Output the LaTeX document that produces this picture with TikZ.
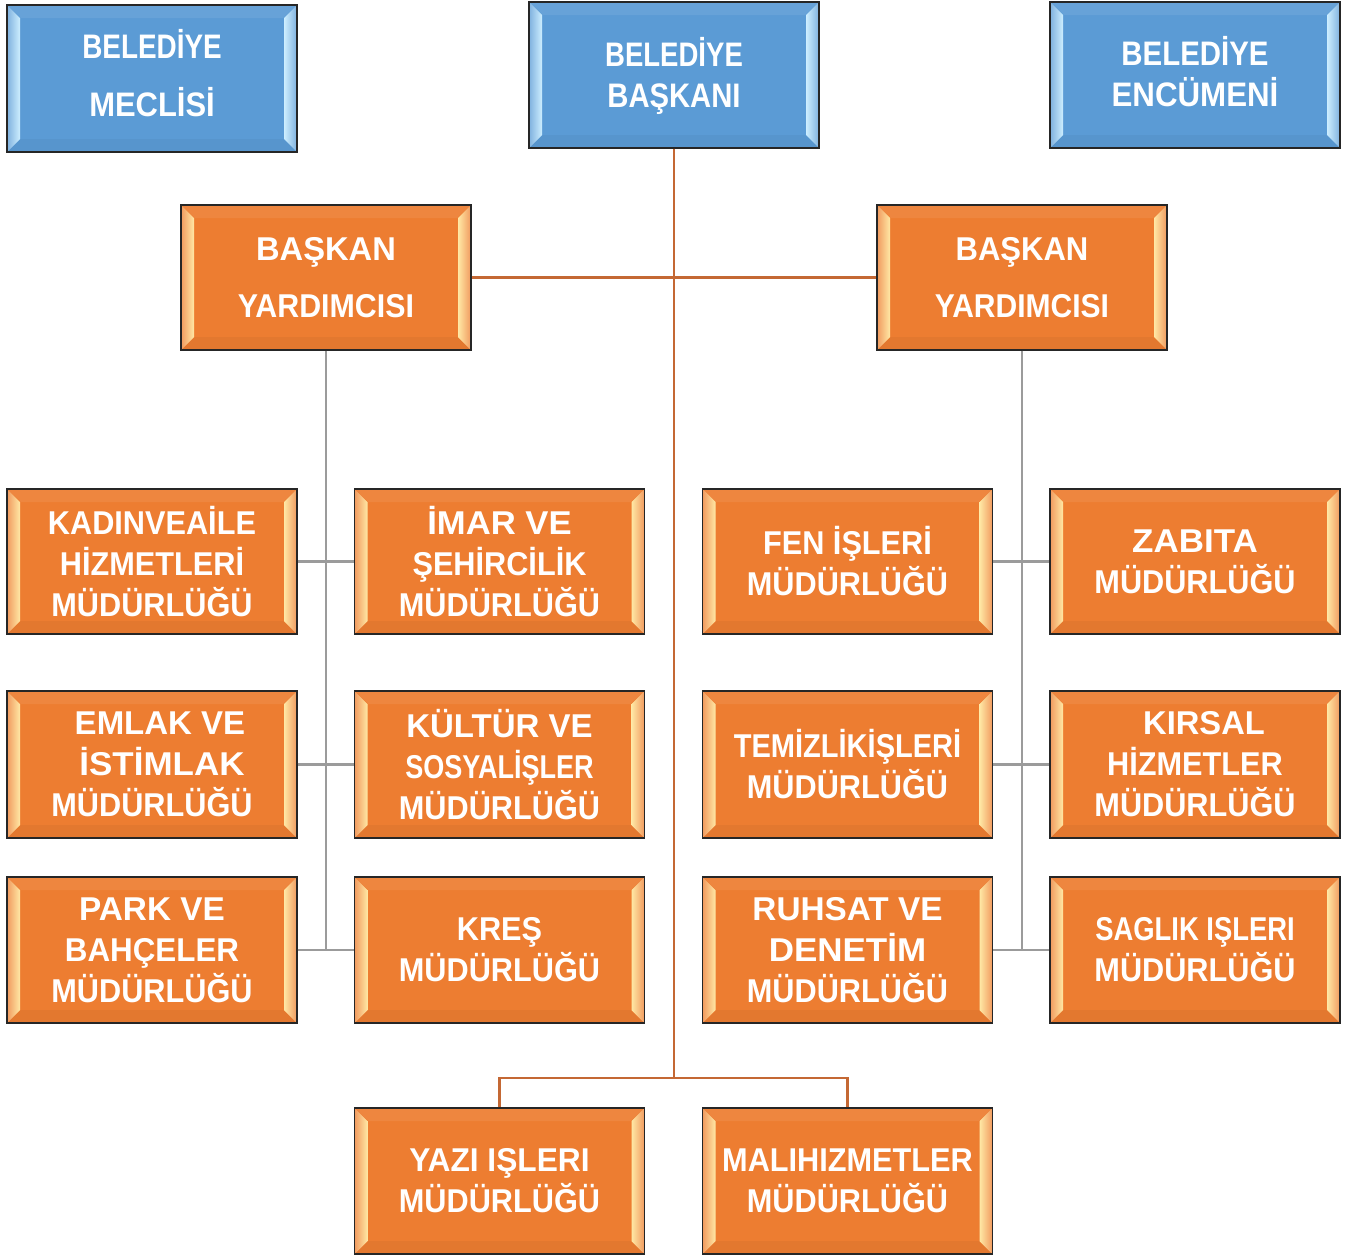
\documentclass[tikz,border=0pt]{standalone}
\usepackage{fontspec}
\usetikzlibrary{calc}
\newfontfamily\orgfont[FakeStretch=0.93]{Liberation Sans}
\newfontfamily\blufont[FakeStretch=0.86]{Liberation Sans}
\newcommand\sx[2]{{\addfontfeatures{FakeStretch=#1}#2}}
\definecolor{orgc}{RGB}{237,125,49}
\definecolor{orghi}{RGB}{255,232,165}
\definecolor{bluc}{RGB}{91,155,213}
\definecolor{bluhi}{RGB}{205,238,255}
\definecolor{brownline}{RGB}{196,104,52}
\definecolor{grayline}{RGB}{155,155,155}
\newcommand\bevel[2]{%
  \fill[#1!93!white] (path picture bounding box.north west) -- ++(14pt,-13pt)
     -- ($(path picture bounding box.north east)+(-14pt,-13pt)$)
     -- (path picture bounding box.north east) -- cycle;
  \fill[#1!96!black] (path picture bounding box.south west) -- ++(14pt,13pt)
     -- ($(path picture bounding box.south east)+(-14pt,13pt)$)
     -- (path picture bounding box.south east) -- cycle;
  \shade[left color=#1!78!white, right color=#2] (path picture bounding box.north west) -- ++(13pt,-13pt)
     -- ($(path picture bounding box.south west)+(13pt,13pt)$)
     -- (path picture bounding box.south west) -- cycle;
  \shade[left color=#2, right color=#1!78!white] (path picture bounding box.north east) -- ++(-13pt,-13pt)
     -- ($(path picture bounding box.south east)+(-13pt,13pt)$)
     -- (path picture bounding box.south east) -- cycle;
}
\tikzset{
  boxbase/.style={draw=black!85, line width=1.3pt, minimum width=290, minimum height=146,
    inner sep=0pt, align=center, text=white},
  orgbox/.style={boxbase, fill=orgc, path picture={\bevel{orgc}{orghi}},
    font=\orgfont\bfseries\fontsize{33}{41}\selectfont},
  blubox/.style={boxbase, fill=bluc, path picture={\bevel{bluc}{bluhi}},
    font=\blufont\bfseries\fontsize{34}{41}\selectfont},
  brownlink/.style={draw=brownline, line width=2.6pt},
  graylink/.style={draw=grayline, line width=2.8pt},
}
\begin{document}
\begin{tikzpicture}[x=1pt,y=1pt]
\useasboundingbox (0,0) rectangle (1348,-1256);

% top row
\node[blubox, minimum height=147, text depth=12pt] (meclis) at (152,-78.5) {\sx{0.82}{BELEDİYE}\\[17pt]\sx{0.91}{MECLİSİ}};
\node[blubox, text depth=6pt] (baskan) at (674,-75) {\sx{0.81}{BELEDİYE}\\\sx{0.86}{BAŞKANI}};
\node[blubox, text depth=8pt] (encumen) at (1195,-75) {\sx{0.865}{BELEDİYE}\\\sx{0.92}{ENCÜMENİ}};

% deputies
\node[orgbox, minimum height=145] (yL) at (326,-277.5) {\sx{0.99}{BAŞKAN}\\[16pt]\sx{0.92}{YARDIMCISI}};
\node[orgbox, minimum height=145] (yR) at (1022,-277.5) {\sx{0.94}{BAŞKAN}\\[16pt]\sx{0.91}{YARDIMCISI}};

% row 1
\node[orgbox, minimum height=145] (kadin) at (152,-561.5) {KADINVEAİLE\\HİZMETLERİ\\MÜDÜRLÜĞÜ};
\node[orgbox, minimum height=145] (imar) at (499.5,-561.5) {\sx{1.05}{İMAR VE}\\ŞEHİRCİLİK\\MÜDÜRLÜĞÜ};
\node[orgbox, minimum height=145] (fen) at (847.5,-561.5) {FEN İŞLERİ\\MÜDÜRLÜĞÜ};
\node[orgbox, minimum height=145] (zabita) at (1195,-561.5) {\sx{1.06}{ZABITA}\\MÜDÜRLÜĞÜ};

% row 2
\node[orgbox, minimum height=147] (emlak) at (152,-764.5) {\hspace*{16pt}\sx{1.0}{EMLAK VE}\\\hspace*{20pt}\sx{1.06}{İSTİMLAK}\\MÜDÜRLÜĞÜ};
\node[orgbox, minimum height=147] (kultur) at (499.5,-764.5) {\sx{1.0}{KÜLTÜR VE}\\\sx{0.82}{SOSYALİŞLER}\\MÜDÜRLÜĞÜ};
\node[orgbox, minimum height=147] (temiz) at (847.5,-764.5) {\sx{0.88}{TEMİZLİKİŞLERİ}\\MÜDÜRLÜĞÜ};
\node[orgbox, minimum height=147] (kirsal) at (1195,-764.5) {\hspace*{18pt}\sx{0.99}{KIRSAL}\\HİZMETLER\\MÜDÜRLÜĞÜ};

% row 3
\node[orgbox] (park) at (152,-950) {\sx{1.01}{PARK VE}\\\sx{0.95}{BAHÇELER}\\MÜDÜRLÜĞÜ};
\node[orgbox] (kres) at (499.5,-950) {KREŞ\\MÜDÜRLÜĞÜ};
\node[orgbox] (ruhsat) at (847.5,-950) {\sx{1.01}{RUHSAT VE}\\\sx{1.06}{DENETİM}\\MÜDÜRLÜĞÜ};
\node[orgbox] (saglik) at (1195,-950) {\sx{0.83}{SAGLIK IŞLERI}\\MÜDÜRLÜĞÜ};

% row 4
\node[orgbox] (yazi) at (499.5,-1181) {\sx{0.96}{YAZI IŞLERI}\\MÜDÜRLÜĞÜ};
\node[orgbox] (mali) at (847.5,-1181) {MALIHIZMETLER\\MÜDÜRLÜĞÜ};

% brown links
\coordinate (bus) at (674,-1078);
\draw[brownlink] (baskan.south) -- (bus);
\draw[brownlink] (yL.east) -- (yR.west);
\draw[brownlink] (yazi.north) |- (bus) -| (mali.north);

% gray links left
\draw[graylink] (yL.south) -- (yL.south |- park.east);
\draw[graylink] (kadin.east) -- (imar.west);
\draw[graylink] (emlak.east) -- (kultur.west);
\draw[graylink] (park.east) -- (kres.west);

% gray links right
\draw[graylink] (yR.south) -- (yR.south |- ruhsat.east);
\draw[graylink] (fen.east) -- (zabita.west);
\draw[graylink] (temiz.east) -- (kirsal.west);
\draw[graylink] (ruhsat.east) -- (saglik.west);
\end{tikzpicture}
\end{document}
